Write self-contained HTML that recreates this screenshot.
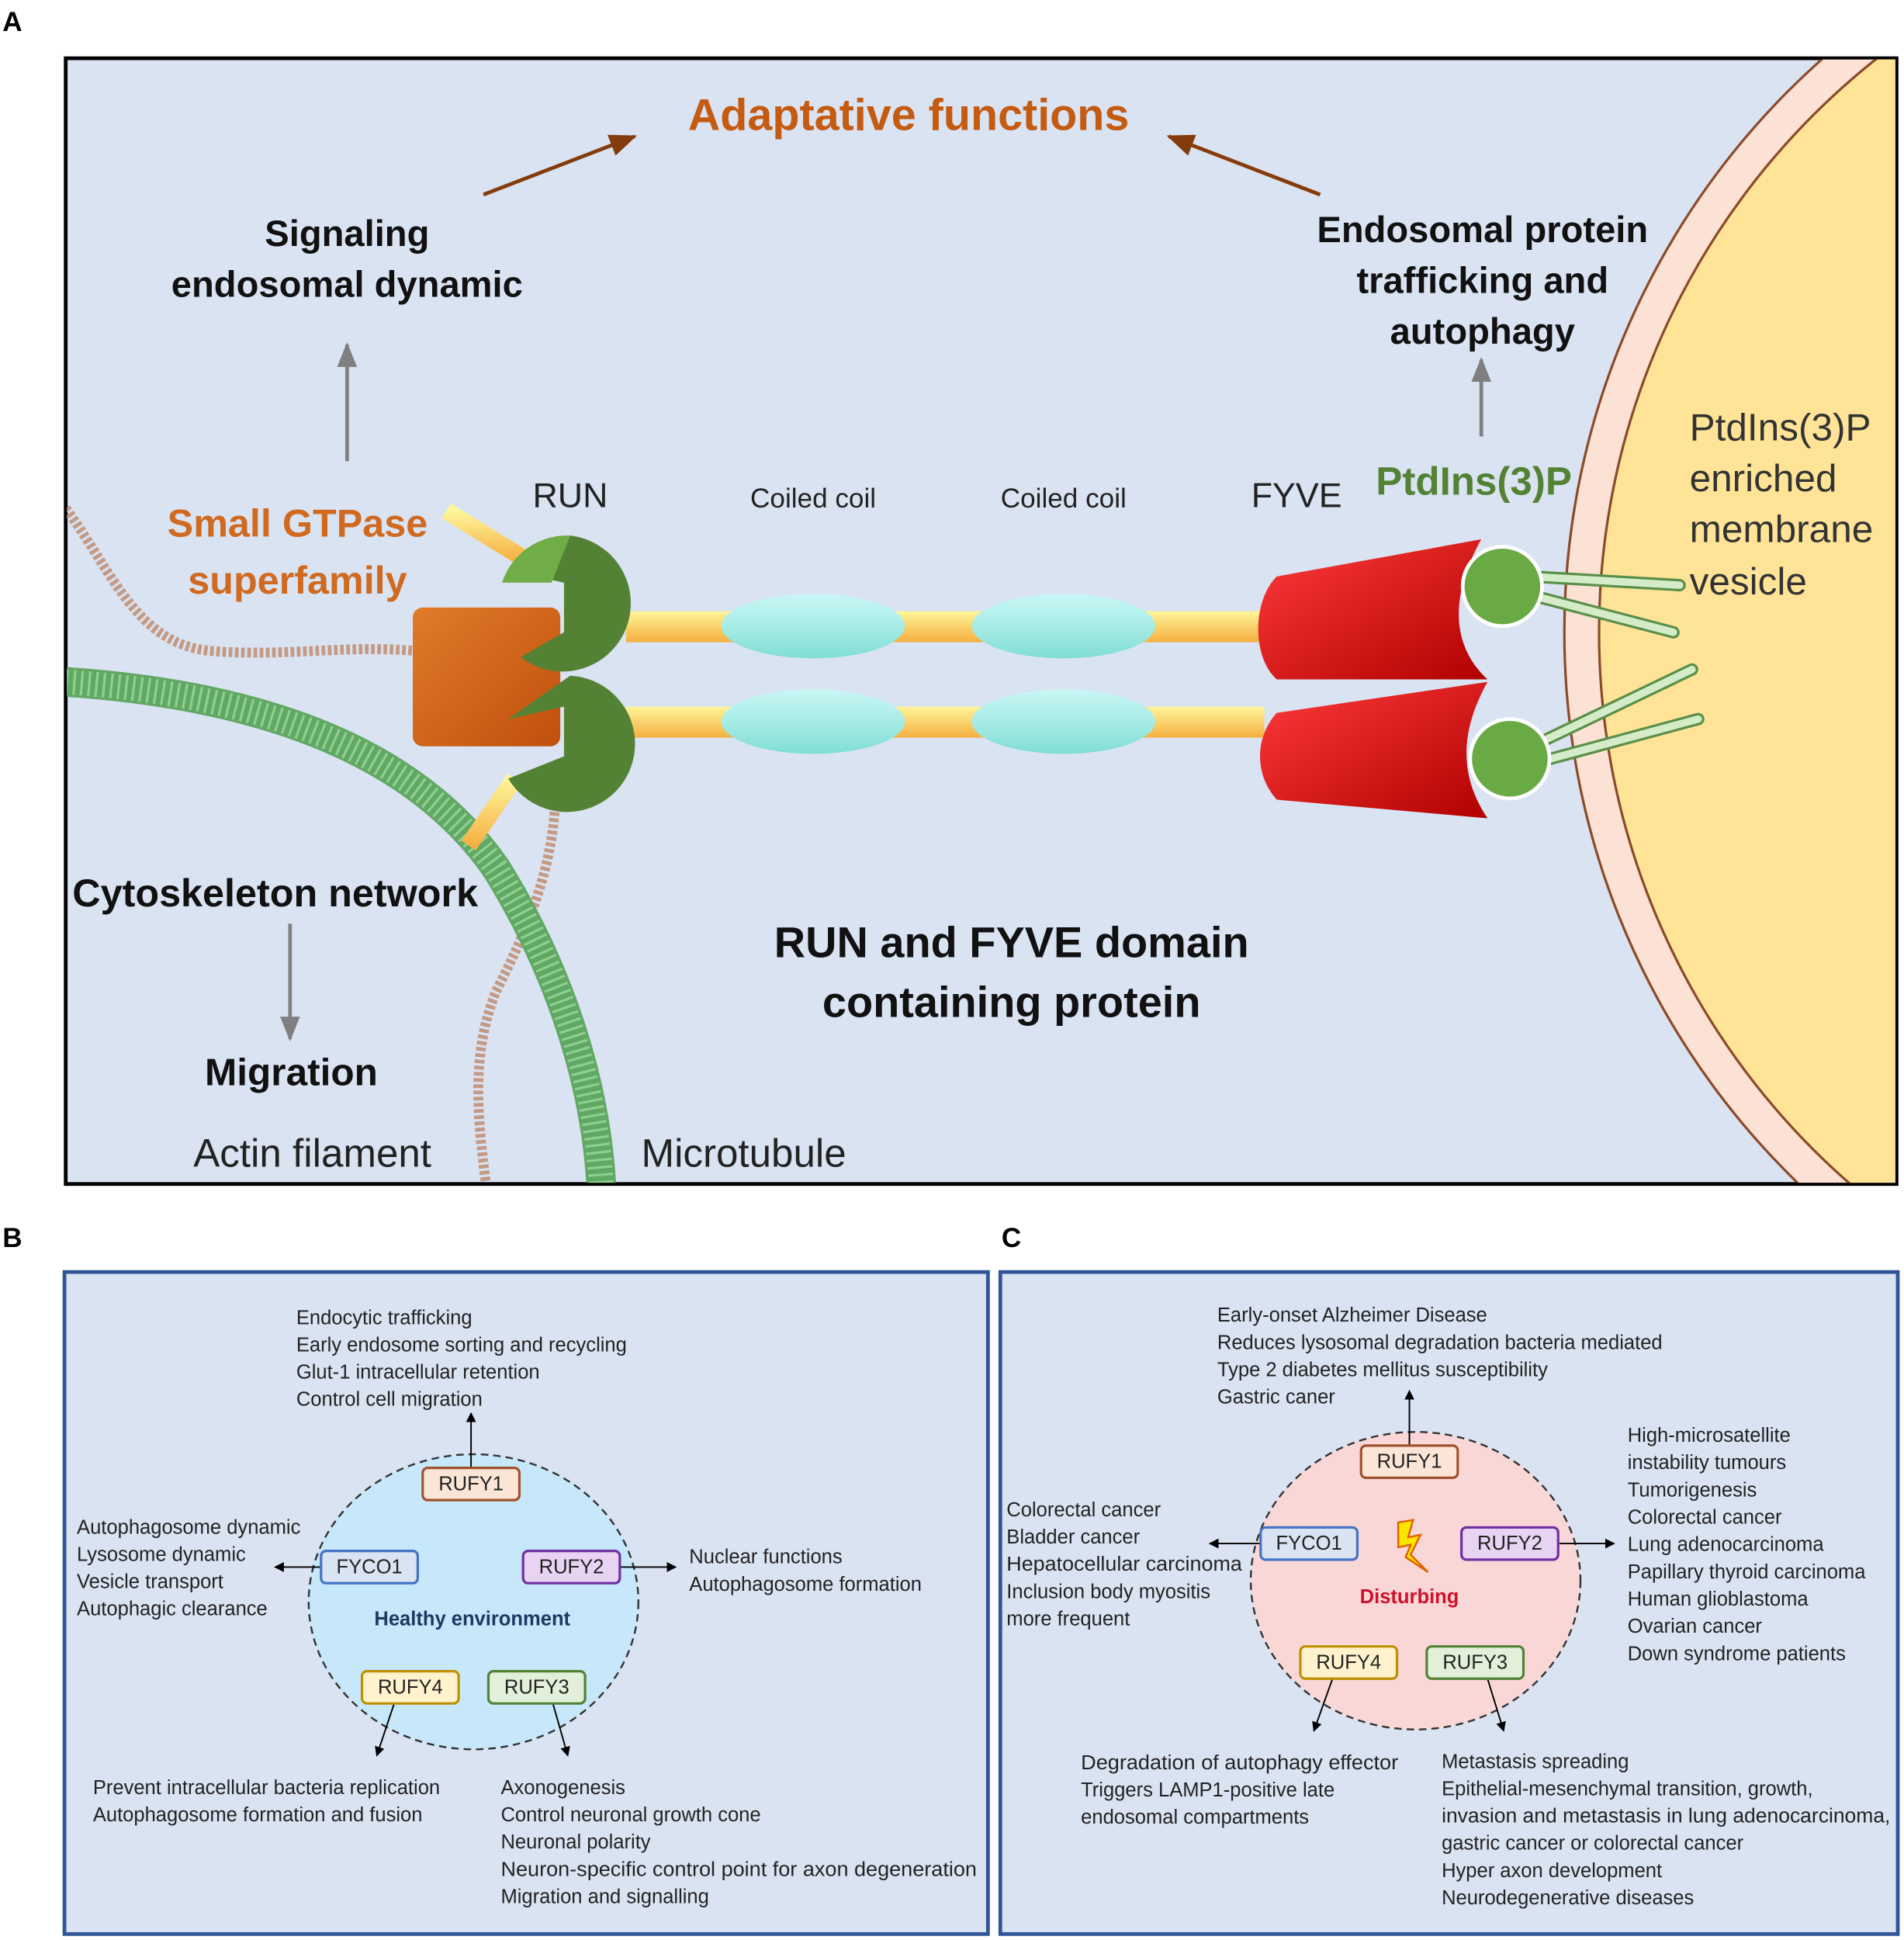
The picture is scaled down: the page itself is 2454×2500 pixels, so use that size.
<!DOCTYPE html>
<html><head><meta charset="utf-8"><style>
html,body{margin:0;padding:0;background:#fff}
svg{display:block}
text{font-family:"Liberation Sans",sans-serif}
.l{font-size:16px;fill:#222}
.b{font-weight:bold}
.bx{font-size:16px;fill:#222;text-anchor:middle;dominant-baseline:central}
</style></head><body>
<svg width="2454" height="2500" viewBox="0 0 1536 1564.8" xmlns="http://www.w3.org/2000/svg">
<defs>
<marker id="ab" markerWidth="8" markerHeight="8" refX="7" refY="4" orient="auto" markerUnits="userSpaceOnUse"><path d="M0,0 L8,4 L0,8 z" fill="#000"/></marker>
<marker id="ag" markerWidth="20" markerHeight="20" refX="18" refY="10" orient="auto" markerUnits="userSpaceOnUse"><path d="M0,2 L20,10 L0,18 z" fill="#7f7f7f"/></marker>
<marker id="ar" markerWidth="22" markerHeight="20" refX="20" refY="10" orient="auto" markerUnits="userSpaceOnUse"><path d="M0,1 L22,10 L0,19 z" fill="#843c0c"/></marker>
<clipPath id="cA"><rect x="54" y="48" width="1475" height="906"/></clipPath>
<linearGradient id="gy" x1="0" y1="0" x2="0" y2="1"><stop offset="0" stop-color="#fff59a"/><stop offset="1" stop-color="#f5b041"/></linearGradient>
<linearGradient id="gc" x1="0" y1="0" x2="0" y2="1"><stop offset="0" stop-color="#c9f7f5"/><stop offset="0.5" stop-color="#a8ece6"/><stop offset="1" stop-color="#7fded3"/></linearGradient>
<linearGradient id="gr" x1="0" y1="0" x2="1" y2="1"><stop offset="0" stop-color="#ff3b3b"/><stop offset="1" stop-color="#b00000"/></linearGradient>
<linearGradient id="go" x1="0" y1="0" x2="1" y2="1"><stop offset="0" stop-color="#e07b2a"/><stop offset="1" stop-color="#c0500c"/></linearGradient>
</defs>
<rect width="1536" height="1565" fill="#fff"/>
<!-- Panel A -->
<text x="2" y="25" font-size="22" class="b">A</text>
<rect x="53" y="47" width="1477" height="908" fill="#dae3f2" stroke="#000" stroke-width="3"/>
<g clip-path="url(#cA)">
<circle cx="1880" cy="510" r="618" fill="#fbe2d4" stroke="#8b4a2a" stroke-width="2"/>
<circle cx="1880" cy="510" r="590" fill="#ffe497" stroke="#8b4a2a" stroke-width="2"/>
<path d="M53,410 C90,460 110,520 170,525 C230,530 280,520 335,525" fill="none" stroke="#c49a85" stroke-width="8" stroke-dasharray="3,2"/>
<path d="M448,630 C450,700 420,760 400,800 C380,850 385,900 392,955" fill="none" stroke="#c49a85" stroke-width="8" stroke-dasharray="3,2"/>
<path d="M53,550 C200,560 330,600 400,700 C450,780 480,870 485,955" fill="none" stroke="#62a865" stroke-width="24"/>
<path d="M53,550 C200,560 330,600 400,700 C450,780 480,870 485,955" fill="none" stroke="#8fcf8f" stroke-width="20" stroke-dasharray="2,4"/>
</g>
<path d="M360,412 L425,452" stroke="url(#gy)" stroke-width="14"/>
<path d="M415,628 L378,682" stroke="url(#gy)" stroke-width="14"/>
<rect x="505" y="493" width="515" height="25" fill="url(#gy)"/>
<rect x="505" y="570" width="515" height="25" fill="url(#gy)"/>
<ellipse cx="656" cy="505" rx="74" ry="26" fill="url(#gc)"/>
<ellipse cx="858" cy="505" rx="74" ry="26" fill="url(#gc)"/>
<ellipse cx="656" cy="582" rx="74" ry="26" fill="url(#gc)"/>
<ellipse cx="858" cy="582" rx="74" ry="26" fill="url(#gc)"/>
<rect x="333" y="490" width="119" height="112" rx="8" fill="url(#go)"/>
<path d="M460,432 A55,55 0 1 1 420,530 L455,510 L455,470 L410,460 Z" fill="#548235"/>
<path d="M460,432 A55,55 0 0 0 405,470 L445,470 Z" fill="#70ad47"/>
<path d="M460,545 A55,55 0 1 1 410,628 L455,610 L455,570 L410,580 Z" fill="#548235"/>
<path d="M1030,465 L1195,435 C1170,480 1170,520 1200,548 L1030,548 C1010,530 1010,485 1030,465 Z" fill="url(#gr)"/>
<path d="M1030,575 L1200,550 C1175,595 1180,630 1200,660 L1030,645 C1012,625 1012,595 1030,575 Z" fill="url(#gr)"/>
<path d="M1235,465 L1355,472 M1235,480 L1350,510" stroke="#5a8f4a" stroke-width="10" stroke-linecap="round"/>
<path d="M1235,465 L1355,472 M1235,480 L1350,510" stroke="#d5ecc8" stroke-width="6" stroke-linecap="round"/>
<path d="M1240,600 L1365,540 M1240,615 L1370,580" stroke="#5a8f4a" stroke-width="10" stroke-linecap="round"/>
<path d="M1240,600 L1365,540 M1240,615 L1370,580" stroke="#d5ecc8" stroke-width="6" stroke-linecap="round"/>
<circle cx="1212" cy="473" r="32" fill="#6aaa45" stroke="#fff" stroke-width="3"/>
<circle cx="1218" cy="612" r="32" fill="#6aaa45" stroke="#fff" stroke-width="3"/>
<line x1="390" y1="157" x2="512" y2="110" stroke="#843c0c" stroke-width="3" marker-end="url(#ar)"/>
<line x1="1065" y1="157" x2="943" y2="110" stroke="#843c0c" stroke-width="3" marker-end="url(#ar)"/>
<line x1="280" y1="372" x2="280" y2="278" stroke="#7f7f7f" stroke-width="3" marker-end="url(#ag)"/>
<line x1="1195" y1="352" x2="1195" y2="290" stroke="#7f7f7f" stroke-width="3" marker-end="url(#ag)"/>
<line x1="234" y1="745" x2="234" y2="838" stroke="#7f7f7f" stroke-width="3" marker-end="url(#ag)"/>
<g text-anchor="middle" dominant-baseline="central" font-weight="bold">
<text x="733" y="93" font-size="36" fill="#c55a11">Adaptative functions</text>
<text x="280" y="188" font-size="29.5" fill="#111">Signaling</text>
<text x="280" y="229" font-size="29.5" fill="#111">endosomal dynamic</text>
<text x="1196" y="185" font-size="29.5" fill="#111">Endosomal protein</text>
<text x="1196" y="226" font-size="29.5" fill="#111">trafficking and</text>
<text x="1196" y="267" font-size="29.5" fill="#111">autophagy</text>
<text x="240" y="422" font-size="31.5" fill="#d06a20">Small GTPase</text>
<text x="240" y="468" font-size="31.5" fill="#d06a20">superfamily</text>
<text x="1189" y="388" font-size="32" fill="#548235">PtdIns(3)P</text>
<text x="222" y="720" font-size="31.5" fill="#111">Cytoskeleton network</text>
<text x="235" y="865" font-size="31" fill="#111">Migration</text>
<text x="816" y="760" font-size="35" fill="#111">RUN and FYVE domain</text>
<text x="816" y="808" font-size="35" fill="#111">containing protein</text>
</g>
<g text-anchor="middle" dominant-baseline="central" fill="#222">
<text x="460" y="400" font-size="28">RUN</text>
<text x="656" y="402" font-size="22">Coiled coil</text>
<text x="858" y="402" font-size="22">Coiled coil</text>
<text x="1046" y="400" font-size="28">FYVE</text>
<text x="252" y="930" font-size="32">Actin filament</text>
<text x="600" y="930" font-size="32">Microtubule</text>
</g>
<g dominant-baseline="central" fill="#333" font-size="31">
<text x="1363" y="345">PtdIns(3)P</text>
<text x="1363" y="386">enriched</text>
<text x="1363" y="427">membrane</text>
<text x="1363" y="469">vesicle</text>
</g>

<!-- Panel B -->
<text x="2" y="1006" font-size="22" class="b">B</text>
<rect x="52" y="1026" width="745" height="534" fill="#dae3f2" stroke="#2f5597" stroke-width="3"/>
<ellipse cx="382" cy="1292" rx="133" ry="119" fill="#c6e8fa" stroke="#333" stroke-width="1.5" stroke-dasharray="6,4"/>
<g stroke="#000" stroke-width="1.2">
<line x1="380" y1="1184" x2="380" y2="1140" marker-end="url(#ab)"/>
<line x1="260" y1="1264" x2="222" y2="1264" marker-end="url(#ab)"/>
<line x1="500" y1="1264" x2="545" y2="1264" marker-end="url(#ab)"/>
<line x1="318" y1="1374" x2="304" y2="1416" marker-end="url(#ab)"/>
<line x1="446" y1="1374" x2="458" y2="1416" marker-end="url(#ab)"/>
</g>
<rect x="341" y="1184" width="78" height="26" rx="4" fill="#fbe5d6" stroke="#a0522d" stroke-width="2"/><text x="380" y="1197" class="bx">RUFY1</text>
<rect x="259" y="1251" width="78" height="26" rx="4" fill="#dae3f2" stroke="#4472c4" stroke-width="2"/><text x="298" y="1264" class="bx">FYCO1</text>
<rect x="422" y="1251" width="78" height="26" rx="4" fill="#e8d3f2" stroke="#7030a0" stroke-width="2"/><text x="461" y="1264" class="bx">RUFY2</text>
<rect x="292" y="1348" width="78" height="26" rx="4" fill="#fff2cc" stroke="#bf9000" stroke-width="2"/><text x="331" y="1361" class="bx">RUFY4</text>
<rect x="394" y="1348" width="78" height="26" rx="4" fill="#e2f0d9" stroke="#548235" stroke-width="2"/><text x="433" y="1361" class="bx">RUFY3</text>
<text x="381" y="1306" font-size="16" class="b" fill="#1f3864" text-anchor="middle" dominant-baseline="central">Healthy environment</text>
<g dominant-baseline="central">
<text x="239" y="1063" class="l">Endocytic trafficking</text>
<text x="239" y="1085" class="l">Early endosome sorting and recycling</text>
<text x="239" y="1107" class="l">Glut-1 intracellular retention</text>
<text x="239" y="1129" class="l">Control cell migration</text>
<text x="62" y="1232" class="l">Autophagosome dynamic</text>
<text x="62" y="1254" class="l">Lysosome dynamic</text>
<text x="62" y="1276" class="l">Vesicle transport</text>
<text x="62" y="1298" class="l">Autophagic clearance</text>
<text x="556" y="1256" class="l">Nuclear functions</text>
<text x="556" y="1278" class="l">Autophagosome formation</text>
<text x="75" y="1442" class="l">Prevent intracellular bacteria replication</text>
<text x="75" y="1464" class="l">Autophagosome formation and fusion</text>
<text x="404" y="1442" class="l">Axonogenesis</text>
<text x="404" y="1464" class="l">Control neuronal growth cone</text>
<text x="404" y="1486" class="l">Neuronal polarity</text>
<text x="404" y="1508" class="l" textLength="384" lengthAdjust="spacingAndGlyphs">Neuron-specific control point for axon degeneration</text>
<text x="404" y="1530" class="l">Migration and signalling</text>
</g>

<!-- Panel C -->
<text x="808" y="1006" font-size="22" class="b">C</text>
<rect x="807" y="1026" width="724" height="534" fill="#dae3f2" stroke="#2f5597" stroke-width="3"/>
<ellipse cx="1142" cy="1275" rx="133" ry="120" fill="#fad7d7" stroke="#333" stroke-width="1.5" stroke-dasharray="6,4"/>
<g stroke="#000" stroke-width="1.2">
<line x1="1137" y1="1166" x2="1137" y2="1122" marker-end="url(#ab)"/>
<line x1="1018" y1="1245" x2="976" y2="1245" marker-end="url(#ab)"/>
<line x1="1258" y1="1245" x2="1302" y2="1245" marker-end="url(#ab)"/>
<line x1="1075" y1="1354" x2="1060" y2="1396" marker-end="url(#ab)"/>
<line x1="1200" y1="1354" x2="1213" y2="1396" marker-end="url(#ab)"/>
</g>
<rect x="1098" y="1166" width="78" height="26" rx="4" fill="#fbe5d6" stroke="#a0522d" stroke-width="2"/><text x="1137" y="1179" class="bx">RUFY1</text>
<rect x="1017" y="1232" width="78" height="26" rx="4" fill="#dae3f2" stroke="#4472c4" stroke-width="2"/><text x="1056" y="1245" class="bx">FYCO1</text>
<rect x="1179" y="1232" width="78" height="26" rx="4" fill="#e8d3f2" stroke="#7030a0" stroke-width="2"/><text x="1218" y="1245" class="bx">RUFY2</text>
<rect x="1049" y="1328" width="78" height="26" rx="4" fill="#fff2cc" stroke="#bf9000" stroke-width="2"/><text x="1088" y="1341" class="bx">RUFY4</text>
<rect x="1151" y="1328" width="78" height="26" rx="4" fill="#e2f0d9" stroke="#548235" stroke-width="2"/><text x="1190" y="1341" class="bx">RUFY3</text>
<path d="M1128,1228 L1140,1226 L1136,1240 L1146,1238 L1138,1254 L1152,1268 L1134,1256 L1138,1246 L1128,1248 Z" fill="#ffe600" stroke="#e06000" stroke-width="1.5"/>
<text x="1137" y="1288" font-size="16" class="b" fill="#d0102a" text-anchor="middle" dominant-baseline="central">Disturbing</text>
<g dominant-baseline="central">
<text x="982" y="1061" class="l">Early-onset Alzheimer Disease</text>
<text x="982" y="1083" class="l">Reduces lysosomal degradation bacteria mediated</text>
<text x="982" y="1105" class="l">Type 2 diabetes mellitus susceptibility</text>
<text x="982" y="1127" class="l">Gastric caner</text>
<text x="1313" y="1158" class="l">High-microsatellite</text>
<text x="1313" y="1180" class="l">instability tumours</text>
<text x="1313" y="1202" class="l">Tumorigenesis</text>
<text x="1313" y="1224" class="l">Colorectal cancer</text>
<text x="1313" y="1246" class="l">Lung adenocarcinoma</text>
<text x="1313" y="1268" class="l">Papillary thyroid carcinoma</text>
<text x="1313" y="1290" class="l">Human glioblastoma</text>
<text x="1313" y="1312" class="l">Ovarian cancer</text>
<text x="1313" y="1334" class="l">Down syndrome patients</text>
<text x="812" y="1218" class="l">Colorectal cancer</text>
<text x="812" y="1240" class="l">Bladder cancer</text>
<text x="812" y="1262" class="l" textLength="190" lengthAdjust="spacingAndGlyphs">Hepatocellular carcinoma</text>
<text x="812" y="1284" class="l">Inclusion body myositis</text>
<text x="812" y="1306" class="l">more frequent</text>
<text x="872" y="1422" class="l" textLength="256" lengthAdjust="spacingAndGlyphs">Degradation of autophagy effector</text>
<text x="872" y="1444" class="l">Triggers LAMP1-positive late</text>
<text x="872" y="1466" class="l">endosomal compartments</text>
<text x="1163" y="1421" class="l">Metastasis spreading</text>
<text x="1163" y="1443" class="l">Epithelial-mesenchymal transition, growth,</text>
<text x="1163" y="1465" class="l" textLength="362" lengthAdjust="spacingAndGlyphs">invasion and metastasis in lung adenocarcinoma,</text>
<text x="1163" y="1487" class="l">gastric cancer or colorectal cancer</text>
<text x="1163" y="1509" class="l">Hyper axon development</text>
<text x="1163" y="1531" class="l">Neurodegenerative diseases</text>
</g>
</svg>
</body></html>
